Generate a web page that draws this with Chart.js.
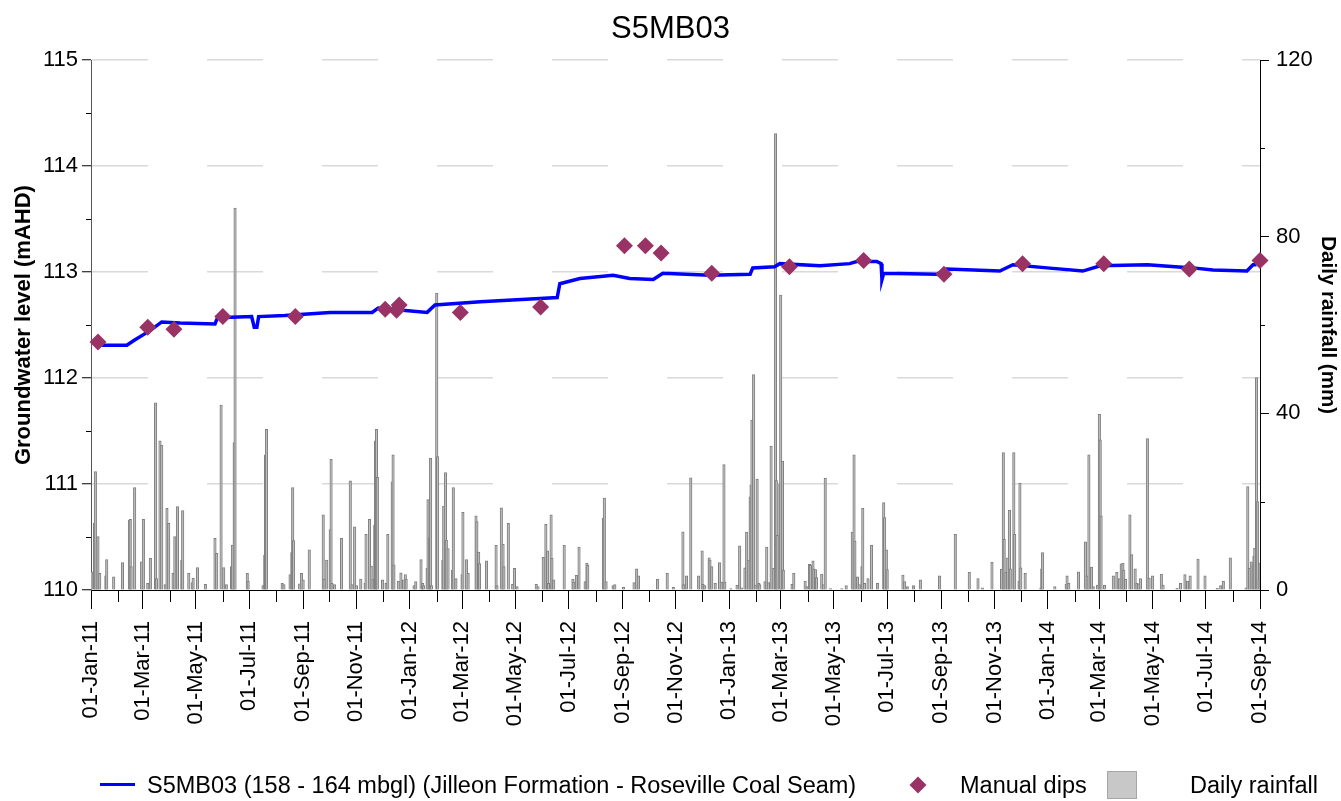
<!DOCTYPE html>
<html>
<head>
<meta charset="utf-8">
<title>S5MB03</title>
<script src="https://cdn.jsdelivr.net/npm/chart.js@4.4.0/dist/chart.umd.min.js"></script>
<style>
  html, body { margin: 0; padding: 0; background: #fff; }
  #wrap { position: relative; width: 1341px; height: 801px; }
  #legend { font-family: "Liberation Sans", Arial, sans-serif; font-size: 23.5px; color: #000; }
  #legend div { position: absolute; }
  .lgText { top: 772px; line-height: 26px; white-space: nowrap; }
</style>
</head>
<body>
<div id="wrap">
  <canvas id="chart" width="1341" height="801"></canvas>
  <div id="legend">
    <div style="left:100px; top:783px; width:35px; height:3px; background:#0000ff;"></div>
    <div class="lgText" id="lg0" style="left:147px;"></div>
    <div style="left:912px; top:779px; width:12px; height:12px; background:#993366; transform:rotate(45deg);"></div>
    <div class="lgText" id="lg1" style="left:960px;"></div>
    <div style="left:1107px; top:771px; width:28px; height:26px; background:#c8c8c8; border:1px solid #a6a6a6;"></div>
    <div class="lgText" id="lg2" style="left:1190px;"></div>
  </div>
</div>
<script>
// x values are days counted from 01-Jan-2011
const seriesNames = ['S5MB03 (158 - 164 mbgl) (Jilleon Formation - Roseville Coal Seam)', 'Manual dips', 'Daily rainfall'];

const xTickLabels = ['01-Jan-11', '01-Mar-11', '01-May-11', '01-Jul-11', '01-Sep-11', '01-Nov-11',
  '01-Jan-12', '01-Mar-12', '01-May-12', '01-Jul-12', '01-Sep-12', '01-Nov-12',
  '01-Jan-13', '01-Mar-13', '01-May-13', '01-Jul-13', '01-Sep-13', '01-Nov-13',
  '01-Jan-14', '01-Mar-14', '01-May-14', '01-Jul-14', '01-Sep-14'];

// logger record of groundwater level (mAHD)
const levelDay = [12, 41, 50, 68, 81, 102, 142, 145, 184, 187, 190, 192, 222, 274, 322, 329, 357, 385, 394, 446,
  514, 534, 537, 560, 598, 617, 644, 655, 709, 755, 758, 783, 789, 835, 869, 877, 900, 905, 906, 908,
  969, 980, 1041, 1056, 1095, 1136, 1156, 1210, 1262, 1285, 1324, 1331, 1335];
const levelMahd = [112.31, 112.31, 112.36, 112.45, 112.53, 112.52, 112.51, 112.57, 112.58, 112.48, 112.48, 112.58, 112.59, 112.62, 112.62, 112.66, 112.64, 112.62, 112.69, 112.72,
  112.75, 112.76, 112.89, 112.94, 112.97, 112.94, 112.93, 112.99, 112.97, 112.98, 113.04, 113.05, 113.08, 113.06, 113.08, 113.10, 113.10, 113.08, 112.93, 112.99,
  112.98, 113.03, 113.01, 113.07, 113.04, 113.01, 113.06, 113.07, 113.04, 113.02, 113.01, 113.07, 113.07];

// manual dips (mAHD)
const dipDay = [8, 65, 95, 151, 234, 337, 350, 353, 423, 515, 611, 635, 653, 711, 800, 885, 977, 1067, 1160, 1258, 1339];
const dipMahd = [112.34, 112.48, 112.46, 112.58, 112.58, 112.65, 112.64, 112.69, 112.62, 112.67, 113.25, 113.25, 113.18, 112.99, 113.05, 113.11, 112.98, 113.08, 113.08, 113.03, 113.11];

// daily rainfall (mm), days without rain left out
const rainDay = [1, 4, 5, 7, 8, 10, 17, 18, 26, 36, 44, 45, 46, 50, 58, 60, 65, 68, 74, 75, 79, 81, 85, 87, 89, 94, 96, 99, 104, 105,
  112, 116, 117, 122, 131, 142, 144, 149, 152, 155, 161, 162, 164, 165, 179, 180, 197, 199, 200, 201, 219, 221, 228, 230, 231, 232, 239, 241, 243, 250,
  266, 267, 270, 274, 275, 276, 279, 287, 297, 299, 302, 304, 309, 314, 315, 319, 321, 323, 325, 326, 327, 328, 334, 338, 340, 345, 346, 347, 352, 355,
  358, 360, 361, 370, 372, 378, 380, 381, 385, 386, 388, 389, 390, 396, 397, 403, 404, 406, 407, 409, 414, 415, 418, 425, 426, 430, 432, 441, 442, 444,
  445, 453, 464, 465, 470, 472, 473, 478, 483, 485, 488, 510, 512, 518, 521, 523, 524, 527, 528, 530, 542, 552, 553, 556, 559, 566, 568, 569, 587, 588,
  590, 598, 600, 610, 622, 625, 627, 649, 660, 667, 678, 679, 682, 687, 696, 700, 701, 703, 708, 709, 711, 715, 720, 722, 725, 726, 733, 740, 743, 745,
  749, 751, 753, 755, 756, 757, 759, 761, 763, 765, 766, 772, 774, 776, 779, 782, 784, 785, 786, 789, 790, 792, 793, 803, 805, 818, 820, 823, 824, 827,
  828, 830, 831, 837, 839, 841, 847, 860, 865, 872, 874, 875, 878, 880, 883, 884, 886, 890, 894, 901, 908, 909, 911, 912, 930, 932, 935, 942, 950, 972,
  990, 1006, 1016, 1021, 1032, 1043, 1045, 1046, 1048, 1050, 1052, 1053, 1057, 1058, 1063, 1064, 1065, 1070, 1088, 1089, 1090, 1104, 1117, 1118, 1120, 1131, 1139, 1141, 1143, 1146,
  1148, 1153, 1155, 1156, 1157, 1161, 1171, 1175, 1178, 1180, 1182, 1183, 1185, 1190, 1192, 1196, 1198, 1200, 1202, 1210, 1212, 1216, 1226, 1228, 1244, 1248, 1253, 1256, 1259, 1268,
  1276, 1290, 1294, 1297, 1305, 1323, 1325, 1327, 1329, 1331, 1332, 1333, 1335, 1336, 1338, 1339];
const rainMm = [4.1, 15.1, 26.8, 10.9, 12.1, 3.8, 3.2, 6.9, 3.0, 6.2, 15.8, 16, 5.3, 23.2, 6.4, 16, 1.5, 7.2, 42.4, 2.6, 33.8, 32.8, 1.2, 18.5, 15.1, 3.8, 12.1, 18.9, 6.8, 18,
  3.8, 1.7, 2.7, 5.1, 1.3, 11.7, 8.3, 41.9, 5.1, 1.2, 5.3, 10.2, 33.4, 86.5, 3.8, 2, 1, 7.9, 30.6, 36.4, 1.5, 1.2, 3.5, 8.5, 23.2, 11.2, 1.4, 3.8, 2.3, 9.1,
  17, 2.5, 6.8, 13.7, 29.6, 1.5, 1.2, 11.7, 24.7, 1.2, 14.3, 1, 2.5, 1.5, 12.6, 16, 5.4, 2.5, 14.7, 33.8, 36.4, 25.5, 2.3, 1.5, 12.6, 24.5, 30.6, 5.7, 2, 3.9,
  2.3, 3.5, 2.5, 1, 1.9, 6.9, 1.5, 1, 4.9, 20.5, 11.9, 29.8, 1, 67.2, 30.2, 6.8, 19, 26.6, 11.3, 9.4, 4.5, 23.2, 2.6, 3.5, 17.6, 6.9, 3.8, 16.8, 15.5, 8.6,
  6, 6.6, 10.1, 1, 18.6, 10.4, 5.3, 15.1, 1.3, 4.9, 0.8, 1.3, 0.8, 7.4, 14.9, 8.9, 1.5, 17, 7.2, 2.3, 10.1, 2.5, 1.8, 3.3, 9.7, 1.9, 6.1, 5.6, 16.3, 20.8,
  1.9, 1, 1.2, 0.6, 1.7, 4.8, 3.2, 2.4, 3.8, 0.6, 13.2, 1.2, 3.2, 25.4, 3.2, 8.9, 1.3, 1, 7.3, 6.8, 5.3, 1.5, 6.2, 1.8, 28.4, 1.8, 0.3, 1.1, 10, 0.5,
  5, 13.1, 6.8, 21.1, 23.8, 38.5, 48.8, 1.1, 25.1, 1.5, 1.2, 1.9, 9.7, 1.7, 32.6, 4.9, 103.4, 24.8, 12.4, 24.1, 66.8, 29.2, 4.5, 1.3, 3.8, 2, 0.8, 5.8, 5.6, 6.6,
  4.8, 4.6, 2.8, 3.6, 1.2, 25.3, 0.3, 0.3, 1, 13.1, 30.6, 11.1, 3, 1.2, 5.3, 18.5, 1.5, 2.6, 10.2, 1.5, 19.8, 16.4, 9.1, 4.6, 3.4, 1.9, 0.8, 1, 2.3, 3.2,
  12.6, 4, 2.6, 0.5, 6.3, 4.7, 31.1, 11.5, 4, 7.3, 18.1, 4.8, 31.1, 12.6, 2, 24.2, 5, 3.8, 0.5, 4.8, 8.5, 0.8, 1.3, 3.2, 1.5, 4.1, 10.9, 3.2, 30.6, 5.2,
  0.8, 1.1, 39.8, 34, 16.8, 1.1, 3.2, 4, 2.6, 5.9, 6.1, 4.5, 2.4, 17, 8, 4.8, 1.5, 1.4, 2.6, 34.3, 2.7, 3.2, 3.6, 1.1, 0.4, 1.5, 3.5, 2, 3.2, 7,
  3.2, 0.4, 1, 2, 7.3, 0.5, 23.4, 4.9, 6.4, 5.5, 7.7, 9.5, 48.1, 20, 2.6, 6.1];

const FONT = '"Liberation Sans", Arial, sans-serif';
const MONTHS = ['Jan', 'Feb', 'Mar', 'Apr', 'May', 'Jun', 'Jul', 'Aug', 'Sep', 'Oct', 'Nov', 'Dec'];
const DAY0 = Date.UTC(2011, 0, 1);

function labelToDay(s) {
  const p = s.split('-');
  return (Date.UTC(2000 + Number(p[2]), MONTHS.indexOf(p[1]), Number(p[0])) - DAY0) / 864e5;
}
const xTickDays = xTickLabels.map(labelToDay);

document.getElementById('lg0').textContent = seriesNames[0];
document.getElementById('lg1').textContent = seriesNames[1];
document.getElementById('lg2').textContent = seriesNames[2];

// short ticks between the labelled ones
const minorTicks = {
  id: 'minorTicks',
  afterDraw(chart) {
    const ctx = chart.ctx;
    const x = chart.scales.x, y = chart.scales.y, y2 = chart.scales.y2;
    const crisp = v => Math.round(v) + 0.5;
    ctx.save();
    ctx.strokeStyle = '#000';
    ctx.lineWidth = 1;
    ctx.beginPath();
    for (let i = 0; i < xTickDays.length - 1; i++) {
      const d = new Date(DAY0 + xTickDays[i] * 864e5);
      const mid = (Date.UTC(d.getUTCFullYear(), d.getUTCMonth() + 1, 1) - DAY0) / 864e5;
      const p = crisp(x.getPixelForValue(mid));
      ctx.moveTo(p, x.top);
      ctx.lineTo(p, x.top + 12);
    }
    for (let i = 0; i < y.ticks.length - 1; i++) {
      const p = crisp(y.getPixelForValue((y.ticks[i].value + y.ticks[i + 1].value) / 2));
      ctx.moveTo(y.right, p);
      ctx.lineTo(y.right - 5, p);
    }
    for (let i = 0; i < y2.ticks.length - 1; i++) {
      const p = crisp(y2.getPixelForValue((y2.ticks[i].value + y2.ticks[i + 1].value) / 2));
      ctx.moveTo(y2.left, p);
      ctx.lineTo(y2.left + 5, p);
    }
    ctx.stroke();
    ctx.restore();
  }
};

new Chart(document.getElementById('chart'), {
  data: {
    datasets: [
      {
        type: 'line',
        label: seriesNames[0],
        data: levelDay.map((d, i) => ({ x: d, y: levelMahd[i] })),
        yAxisID: 'y',
        borderColor: '#0000ff',
        borderWidth: 3.5,
        pointRadius: 0,
        tension: 0,
        order: 2
      },
      {
        type: 'scatter',
        label: seriesNames[1],
        data: dipDay.map((d, i) => ({ x: d, y: dipMahd[i] })),
        yAxisID: 'y',
        pointStyle: 'rectRot',
        pointRadius: 8.5,
        backgroundColor: '#993366',
        borderColor: '#993366',
        borderWidth: 0,
        clip: false,
        order: 1
      },
      {
        type: 'bar',
        label: seriesNames[2],
        data: rainDay.map((d, i) => ({ x: d, y: rainMm[i] })),
        yAxisID: 'y2',
        backgroundColor: '#bdbdbd',
        borderColor: '#7f7f7f',
        borderWidth: 1,
        barThickness: 2.5,
        order: 3
      }
    ]
  },
  options: {
    responsive: false,
    animation: false,
    layout: { padding: 0 },
    plugins: {
      legend: { display: false },
      tooltip: { enabled: false },
      title: {
        display: true,
        text: 'S5MB03',
        color: '#000',
        font: { family: FONT, size: 31, weight: 'normal' },
        padding: { top: 11, bottom: 12 }
      }
    },
    scales: {
      x: {
        type: 'linear',
        position: 'bottom',
        min: xTickDays[0],
        max: xTickDays[xTickDays.length - 1],
        offset: false,
        afterBuildTicks: scale => { scale.ticks = xTickDays.map(v => ({ value: v })); },
        afterFit: scale => { scale.height = 211; },
        ticks: {
          autoSkip: false,
          maxRotation: 90,
          minRotation: 90,
          padding: 12,
          color: '#000',
          font: { family: FONT, size: 22 },
          callback: (v, i) => xTickLabels[i]
        },
        grid: { drawOnChartArea: false, tickLength: 19, tickColor: '#000', offset: false },
        border: { color: '#000', width: 1 }
      },
      y: {
        position: 'left',
        min: 110,
        max: 115,
        afterFit: scale => { scale.width = 91; },
        ticks: { stepSize: 1, padding: 4, color: '#000', font: { family: FONT, size: 22 } },
        grid: {
          color: c => (c.tick && c.tick.value === 110 ? 'rgba(0,0,0,0)' : '#d9d9d9'),
          lineWidth: 1.5,
          tickColor: '#000',
          tickWidth: 1,
          tickLength: 9
        },
        border: { color: '#555', width: 1, dash: [56, 59] },
        title: {
          display: true,
          text: 'Groundwater level (mAHD)',
          color: '#000',
          font: { family: FONT, size: 22, weight: 'bold' },
          padding: { top: 11, bottom: 0 }
        }
      },
      y2: {
        position: 'right',
        min: 0,
        max: 120,
        afterFit: scale => { scale.width = 81; },
        ticks: { stepSize: 40, padding: 7, color: '#000', font: { family: FONT, size: 22 } },
        grid: { drawOnChartArea: false, tickColor: '#000', tickLength: 9 },
        border: { color: '#000', width: 1 },
        title: {
          display: true,
          text: 'Daily rainfall (mm)',
          color: '#000',
          font: { family: FONT, size: 20.5, weight: 'bold' },
          padding: { top: 1, bottom: 0 }
        }
      }
    }
  },
  plugins: [minorTicks]
});
</script>
</body>
</html>
